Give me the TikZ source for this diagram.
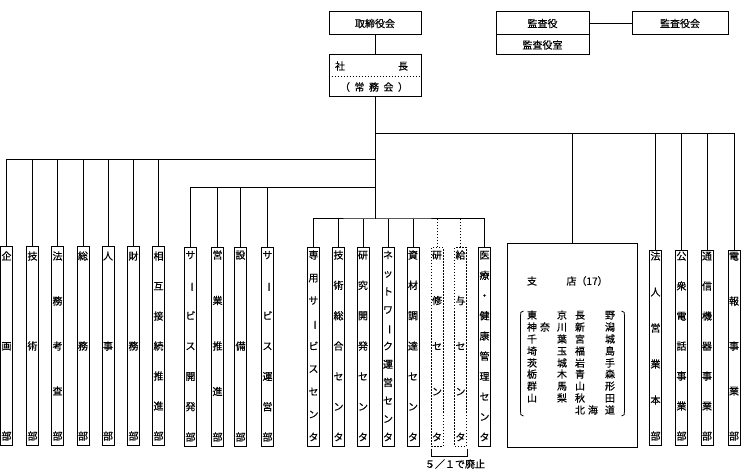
\documentclass[tikz,border=0pt]{standalone}
\usepackage{fontspec}
\newfontfamily\jp[FakeBold=0.5]{Noto Sans CJK JP}
\usetikzlibrary{calc}
\newcommand\vbarch{\rotatebox[origin=c]{-90}{ー}}
\newcommand\vcol[4]{%
  \foreach \c [count=\n] in {#4} {\xdef\vcnum{\n}}%
  \foreach \c [count=\i from 0] in {#4} {%
    \node[ch] at (#1, {#2+\i*(#3-#2)/(\vcnum-1)}) {\c};
  }%
}
\begin{document}
\begin{tikzpicture}[x=1pt,y=-1pt,line width=1pt,
  ch/.style={inner sep=0pt,font=\jp\fontsize{10}{12}\selectfont,text height=8.8pt,text depth=1.2pt},
  colbox/.style={draw,rectangle,inner sep=0pt,minimum width=12pt},
  lbox/.style={colbox,minimum height=198pt},
  mbox/.style={colbox,minimum height=198pt},
  rbox/.style={colbox,minimum height=194pt},
  dashbox/.style={dash pattern=on 1.5pt off 1.5pt},
  topbox/.style={draw,rectangle,inner sep=0pt,minimum height=23pt,font=\jp\fontsize{10}{12}\selectfont}]
\fill[white] (0,0) rectangle (742,470);
\useasboundingbox (0,0) rectangle (742,470);

% top boxes
\node[topbox,minimum width=92pt] (torishimari) at (375,23.5) {取締役会};
\node[draw,rectangle,inner sep=0pt,minimum width=92pt,minimum height=42pt] (shacho) at (375,76) {};
\draw[dashbox,line width=0.8pt] (shacho.west) -- (shacho.east);
\node[ch] (sha) at (340,66) {社};
\node[ch] (cho) at (403,66) {長};
\foreach \t/\x [count=\k] in {（/345,常/359.5,務/374,会/388.5,）/403} {\node[ch] (jm\k) at (\x,87) {\t};}
\node[topbox,minimum width=93pt] (kansayaku) at (542.5,23.5) {監査役};
\node[topbox,minimum width=93pt,minimum height=20pt] (kansashitsu) at (542.5,45) {監査役室};
\node[topbox,minimum width=96pt] (kansakai) at (680,23.5) {監査役会};
\draw (kansayaku) -- (kansakai);
\draw (torishimari) -- (shacho);

% left group
\node[lbox] (kikaku)  at (6.5,346) {};
\node[lbox] (gijutsu) at (32.5,346) {};
\node[lbox] (homu)    at (57.5,346) {};
\node[lbox] (somu)    at (83,346) {};
\node[lbox] (jinji)   at (108,346) {};
\node[lbox] (zaimu)   at (133.5,346) {};
\node[lbox] (sogo)    at (158.5,346) {};
\vcol{6.5}{256}{436}{企,画,部}
\vcol{32.5}{256}{436}{技,術,部}
\vcol{57.5}{256}{436}{法,務,考,査,部}
\vcol{83}{256}{436}{総,務,部}
\vcol{108}{256}{436}{人,事,部}
\vcol{133.5}{256}{436}{財,務,部}
\vcol{158.5}{256}{436}{相,互,接,続,推,進,部}

% middle group 1
\node[mbox] (svdev)   at (190.5,347) {};
\node[mbox] (eigyo)   at (217.5,347) {};
\node[mbox] (setsubi) at (240.5,347) {};
\node[mbox] (svope)   at (267.5,347) {};
\vcol{190.5}{255}{437}{サ,\vbarch,ビ,ス,開,発,部}
\vcol{217.5}{255}{437}{営,業,推,進,部}
\vcol{240.5}{255}{437}{設,備,部}
\vcol{267.5}{255}{437}{サ,\vbarch,ビ,ス,運,営,部}

% middle group 2
\node[mbox] (senyo)   at (313.5,347) {};
\node[mbox] (gisogo)  at (338.5,347) {};
\node[mbox] (kenkyu)  at (363,347) {};
\node[mbox] (network) at (388,347) {};
\node[mbox] (shizai)  at (413,347) {};
\node[mbox,dashbox] (kenshu) at (437,347) {};
\node[mbox,dashbox] (kyuyo)  at (460.5,347) {};
\node[mbox] (iryo)    at (484.5,347) {};
\vcol{313.5}{255}{437}{専,用,サ,\vbarch,ビ,ス,セ,ン,タ}
\vcol{338.5}{255}{437}{技,術,総,合,セ,ン,タ}
\vcol{363}{255}{437}{研,究,開,発,セ,ン,タ}
\vcol{388}{255}{437}{ネ,ッ,ト,ワ,\vbarch,ク,運,営,セ,ン,タ}
\vcol{413}{255}{437}{資,材,調,達,セ,ン,タ}
\vcol{437}{255}{437}{研,修,セ,ン,タ}
\vcol{460.5}{255}{437}{給,与,セ,ン,タ}
\vcol{484.5}{255}{437}{医,療,・,健,康,管,理,セ,ン,タ}

% branches box
\node[draw,rectangle,inner sep=0pt,minimum width=130pt,minimum height=203pt] (shiten) at (572,345.5) {};
\node[ch] (shi) at (532,281) {支};
\node[ch,anchor=west] (ten) at (566,281) {店（17）};
\foreach \t/\x/\y [count=\k] in {
  東/532/315, 京/562/315, 長/580/315, 野/610/315,
  神/532/327, 奈/545/327, 川/562/327, 新/580/327, 潟/610/327,
  千/532/339, 葉/562/339, 宮/580/339, 城/610/339,
  埼/532/351, 玉/562/351, 福/580/351, 島/610/351,
  茨/532/363, 城/562/363, 岩/580/363, 手/610/363,
  栃/532/374, 木/562/374, 青/580/374, 森/610/374,
  群/532/386, 馬/562/386, 山/580/386, 形/610/386,
  山/532/398, 梨/562/398, 秋/580/398, 田/610/398,
  北/580/410, 海/593/410, 道/610/410}
  {\node[ch] (pf\k) at (\x,\y) {\t};}
\draw[line width=0.8pt] (523.5,311) .. controls (520.5,311) and (520.5,313) .. (520.5,316) -- (520.5,411) .. controls (520.5,414) and (520.5,416) .. (523.5,416);
\draw[line width=0.8pt] (621.5,311) .. controls (624.5,311) and (624.5,313) .. (624.5,316) -- (624.5,411) .. controls (624.5,414) and (624.5,416) .. (621.5,416);

% right group
\node[rbox] (hojin)   at (655.5,348) {};
\node[rbox] (koshu)   at (681.5,348) {};
\node[rbox] (tsushin) at (707,348) {};
\node[rbox] (denpo)   at (734,348) {};
\vcol{655.5}{256}{436}{法,人,営,業,本,部}
\vcol{681.5}{256}{436}{公,衆,電,話,事,業,部}
\vcol{707}{256}{436}{通,信,機,器,事,業,部}
\vcol{734}{256}{436}{電,報,事,業,部}

% connectors
\coordinate (j1) at (375,134);
\coordinate (j2) at (375,160);
\coordinate (j3) at (375,188);
\coordinate (j4) at (375,219);
\draw (shacho.south) -- (j4);
\draw (j1) -| (denpo.north);
\foreach \b in {shiten,hojin,koshu,tsushin} {\draw (\b.north) -- (\b.north |- j1);}
\draw (j2) -| (kikaku.north);
\foreach \b in {gijutsu,homu,somu,jinji,zaimu,sogo} {\draw (\b.north) -- (\b.north |- j2);}
\draw (j3) -| (svdev.north);
\foreach \b in {eigyo,setsubi,svope} {\draw (\b.north) -- (\b.north |- j3);}
\draw (senyo.north) |- (j4) -| (iryo.north);
\foreach \b in {gisogo,kenkyu,network,shizai} {\draw (\b.north) -- (\b.north |- j4);}
\foreach \b in {kenshu,kyuyo} {\draw[dashbox] (\b.north) -- (\b.north |- j4);}

% abolished bracket
\draw ($(kenshu.south west)+(1,2)$) -- ++(0,8) -| ($(kyuyo.south east)+(0,2)$);
\node[ch] (haishi) at (455,464) {５／１で廃止};
\end{tikzpicture}
\end{document}
